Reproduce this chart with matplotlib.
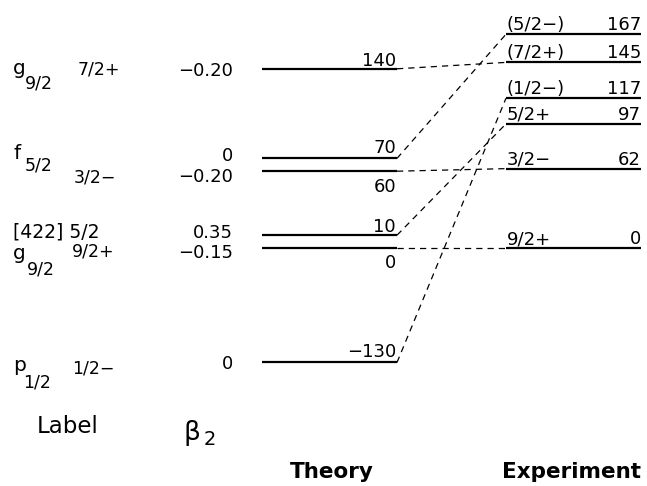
import numpy as np
import matplotlib
matplotlib.use("Agg")
import matplotlib.pyplot as plt
from matplotlib.transforms import offset_copy

# ---------------- data ----------------
theory_E = [140, 70, 60, 10, 0, -130]
theory_txt = ["140", "70", "60", "10", "0", "−130"]

exp_E = [167, 145, 117, 97, 62, 0]
exp_spin = ["(5/2−)", "(7/2+)", "(1/2−)", "5/2+", "3/2−", "9/2+"]
exp_txt = ["167", "145", "117", "97", "62", "0"]

# experimental level matched with each theory level (dashed links)
link_exp = [145, 167, 62, 97, 0, 117]

# left-hand column
orb_row = [140, 70, 10, 0, -130]
orb_name = ["g", "f", "[422] 5/2", "g", "p"]
orb_sub = ["9/2", "5/2", "", "9/2", "1/2"]

spin_row = [140, 60, 0, -130]
spin_lbl = ["7/2+", "3/2−", "9/2+", "1/2−"]

beta_row = [140, 70, 60, 10, 0, -130]
beta2 = ["−0.20", "0", "−0.20", "0.35", "−0.15", "0"]

# ---------------- figure ----------------
plt.rcParams["font.family"] = ["DejaVu Sans"]
W, H = 647, 486
fig = plt.figure(figsize=(W / 100, H / 100), dpi=100)
ax = fig.add_axes([0, 0, 1, 1])
ax.axis("off")

NEG = 0.688  # compressed scale below zero


def fwd(y):
    y = np.asarray(y, dtype=float)
    return np.where(y < 0, y * NEG, y)


def inv(y):
    y = np.asarray(y, dtype=float)
    return np.where(y < 0, y / NEG, y)


ax.set_yscale("function", functions=(fwd, inv))
ax.set_xlim(0, W)
ppu = 1.28
ax.set_ylim(float(inv(-(H - 248) / ppu)), 248 / ppu)


def put(x, e, s, dy=0, **kw):
    tr = offset_copy(ax.transData, fig=fig, x=0, y=dy, units="dots")
    ax.text(x, e, s, transform=tr, va="baseline", **kw)


def pix(x, ypx, s, **kw):
    ax.text(x / W, 1 - ypx / H, s, transform=ax.transAxes, va="baseline", **kw)


TX0, TX1 = 262, 397
EX0, EX1 = 506, 641

# theory levels
th_dy = [3, 5, -21, 3, -20, 5]
for e, t, dy in zip(theory_E, theory_txt, th_dy):
    ax.plot([TX0, TX1], [e, e], color="black", lw=1.6, solid_capstyle="butt")
    put(TX1 - 1, e, t, dy=dy, ha="right", fontsize=13)

# experiment levels
for e, sp, t in zip(exp_E, exp_spin, exp_txt):
    ax.plot([EX0, EX1], [e, e], color="black", lw=1.6, solid_capstyle="butt")
    put(EX0 + 1, e, sp, dy=4, ha="left", fontsize=13)
    put(EX1, e, t, dy=4, ha="right", fontsize=13)

# dashed links
for e, le in zip(theory_E, link_exp):
    ax.plot([TX1, EX0], [e, le], color="black", lw=0.9, ls=(0, (5, 4)))

# left column: orbital labels
orb_dy = [-5, -1, -2, -11, -9]
sub_dy = [-20, -12, 0, -26, -25]
sub_x = [25, 25, 0, 27, 23]
for r, n, sb, dy, sdy, sx in zip(orb_row, orb_name, orb_sub, orb_dy, sub_dy, sub_x):
    if sb:
        put(13, r, n, dy=dy, ha="left", fontsize=14.5)
        put(sx, r, sb, dy=sdy, ha="left", fontsize=12.5)
    else:
        put(13, r, n, dy=dy, ha="left", fontsize=13.5)

spin_dy = [-6, -11, -9, -11]
spin_x = [78, 74, 72, 72]
for r, s, dy, x in zip(spin_row, spin_lbl, spin_dy, spin_x):
    put(x, r, s, dy=dy, ha="left", fontsize=12.5)

beta_dy = [-7, -3, -11, -3, -10, -7]
for r, b, dy in zip(beta_row, beta2, beta_dy):
    put(233, r, b, dy=dy, ha="right", fontsize=13)

# column headings
pix(37, 433, "Label", fontsize=16.5)
pix(183, 440, "β", fontsize=19)
pix(204, 445, "2", fontsize=14)
pix(332, 478, "Theory", fontsize=15.5, fontweight="bold", ha="center")
pix(571, 478, "Experiment", fontsize=15.5, fontweight="bold", ha="center")

fig.savefig("out.png", dpi=100)
